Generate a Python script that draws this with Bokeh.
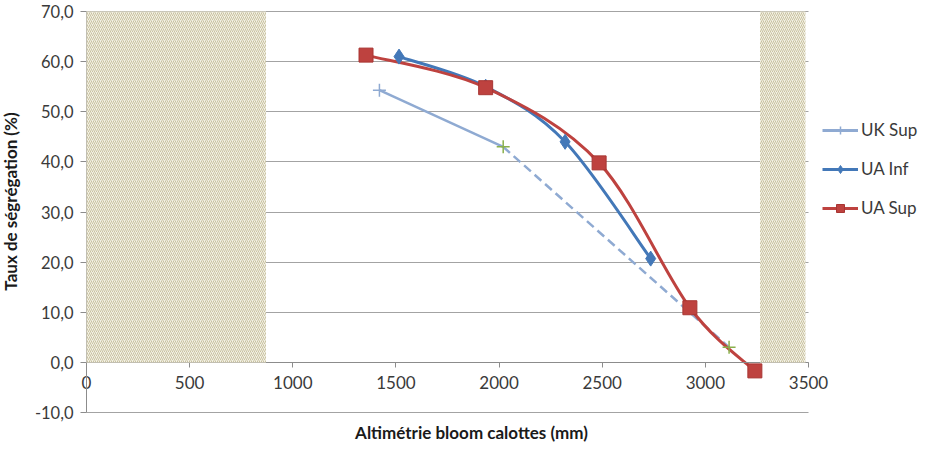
from math import pi
from bokeh.plotting import figure
from bokeh.models import (ColumnDataSource, FixedTicker, CustomJSTickFormatter,
                          Legend, LegendItem, Label)
from bokeh.embed import file_html
from bokeh.resources import INLINE

# ---------------- data ----------------
x_ticks = [0, 500, 1000, 1500, 2000, 2500, 3000, 3500]
y_ticks = [-10, 0, 10, 20, 30, 40, 50, 60, 70]

uk_sup_x = [1420, 2020, 3115]
uk_sup_y = [54.3, 43.0, 3.0]

ua_inf_x = [1515, 1935, 2320, 2735]
ua_inf_y = [61.0, 55.0, 44.0, 20.7]

ua_sup_x = [1355, 1935, 2485, 2925, 3240]
ua_sup_y = [61.3, 54.8, 39.8, 10.9, -1.7]

zone_left = [0, 3265]
zone_right = [870, 3485]
zone_bottom = [0, 0]
zone_top = [70, 70]

series_names = ["UK Sup", "UA Inf", "UA Sup"]
x_title = "Altimétrie bloom calottes (mm)"
y_title = "Taux de ségrégation (%)"

# ---------------- layout / styles ----------------
W, H = 918, 442
X0_PX, X1_PX = 86, 808      # pixel columns of x = 0 and x = 3500
Y70_PX, YM10_PX = 11, 412   # pixel rows of y = 70 and y = -10
SX = (X1_PX - X0_PX) / (x_ticks[-1] - x_ticks[0])
SY = (YM10_PX - Y70_PX) / (y_ticks[-1] - y_ticks[0])


def px_x(px):
    return x_ticks[0] + (px - X0_PX) / SX


def px_y(py):
    return y_ticks[-1] - (py - Y70_PX) / SY


UK_COLOR = "#8FAAD2"
UK_MARK_COLORS = ["#8FAAD2", "#8AB04C", "#8AB04C"]
INF_COLOR = "#4378B8"
SUP_COLOR = "#BE423F"
SUP_EDGE = "#A83532"
GRID = "#A3A3A3"
AXIS = "#8C8C8C"
TXT = "#3A3A3A"
FONT = "Lato"
NAN = float("nan")


def smooth_segments(xs, ys):
    """Bezier segments through the points (Catmull-Rom style control points)."""
    n = len(xs)
    d = dict(x0=[], y0=[], x1=[], y1=[], cx0=[], cy0=[], cx1=[], cy1=[])
    for i in range(n - 1):
        a = max(i - 1, 0)
        b = min(i + 2, n - 1)
        d["x0"].append(xs[i]); d["y0"].append(ys[i])
        d["x1"].append(xs[i + 1]); d["y1"].append(ys[i + 1])
        d["cx0"].append(xs[i] + (xs[i + 1] - xs[a]) / 6.0)
        d["cy0"].append(ys[i] + (ys[i + 1] - ys[a]) / 6.0)
        d["cx1"].append(xs[i + 1] - (xs[b] - xs[i]) / 6.0)
        d["cy1"].append(ys[i + 1] - (ys[b] - ys[i]) / 6.0)
    return d


p = figure(width=W, height=H,
           x_range=(px_x(0), px_x(W)), y_range=(px_y(H), px_y(0)),
           output_backend="svg", toolbar_location=None,
           min_border_left=0, min_border_right=0,
           min_border_top=0, min_border_bottom=0)
p.outline_line_color = None
p.background_fill_color = "white"
p.border_fill_color = "white"

# axes (crossing at 0 / 0)
xa = p.xaxis[0]
xa.fixed_location = 0
xa.bounds = (x_ticks[0], x_ticks[-1])
xa.ticker = FixedTicker(ticks=x_ticks, minor_ticks=[])
xa.major_tick_in = 0
xa.major_tick_out = 5
xa.minor_tick_out = 0
xa.minor_tick_in = 0
xa.axis_line_color = AXIS
xa.major_tick_line_color = AXIS
xa.major_label_text_font = FONT
xa.major_label_text_font_size = "17px"
xa.major_label_text_color = TXT
xa.major_label_standoff = 9

ya = p.yaxis[0]
ya.fixed_location = 0
ya.bounds = (y_ticks[0], y_ticks[-1])
ya.ticker = FixedTicker(ticks=y_ticks, minor_ticks=[])
ya.formatter = CustomJSTickFormatter(code="return tick.toFixed(1).replace('.', ',');")
ya.major_tick_in = 0
ya.major_tick_out = 6
ya.minor_tick_out = 0
ya.minor_tick_in = 0
ya.axis_line_color = AXIS
ya.major_tick_line_color = AXIS
ya.major_label_text_font = FONT
ya.major_label_text_font_size = "16.5px"
ya.major_label_text_color = TXT
ya.major_label_standoff = 7

p.xgrid.visible = False
yg = p.ygrid[0]
yg.ticker = FixedTicker(ticks=y_ticks, minor_ticks=[])
yg.grid_line_color = GRID
yg.grid_line_width = 1
if "cross_bounds" in yg.properties():
    yg.cross_bounds = (x_ticks[0], x_ticks[-1])
else:
    yg.visible = False
    p.segment(x0=[x_ticks[0]] * len(y_ticks), x1=[x_ticks[-1]] * len(y_ticks),
              y0=y_ticks, y1=y_ticks, line_color=GRID, line_width=1, level="underlay")

# hatched zones (drawn over the axis line, as in the reference)
p.quad(left=zone_left, right=zone_right, bottom=zone_bottom, top=zone_top,
       fill_color="#F2F0E4", line_color=None,
       hatch_pattern="/", hatch_color="#C9C2A0", hatch_scale=4, hatch_weight=1,
       level="overlay")

# UK Sup: straight lines, solid then dashed
p.line(x=uk_sup_x[:2], y=uk_sup_y[:2], line_color=UK_COLOR, line_width=2.5)
p.line(x=uk_sup_x[1:], y=uk_sup_y[1:], line_color=UK_COLOR, line_width=2.5,
       line_dash="9 5")

inf_seg = smooth_segments(ua_inf_x, ua_inf_y)
p.bezier(x0="x0", y0="y0", x1="x1", y1="y1", cx0="cx0", cy0="cy0", cx1="cx1", cy1="cy1",
         source=ColumnDataSource(inf_seg), line_color=INF_COLOR, line_width=3)

sup_seg = smooth_segments(ua_sup_x, ua_sup_y)
p.bezier(x0="x0", y0="y0", x1="x1", y1="y1", cx0="cx0", cy0="cy0", cx1="cx1", cy1="cy1",
         source=ColumnDataSource(sup_seg), line_color=SUP_COLOR, line_width=3)

# markers
p.scatter(x=uk_sup_x, y=uk_sup_y, marker="cross", size=13, line_width=1.5,
          line_color=UK_MARK_COLORS, level="overlay")
p.scatter(x=ua_inf_x, y=ua_inf_y, marker="diamond", size=15,
          fill_color=INF_COLOR, line_color=INF_COLOR, level="overlay")
p.scatter(x=ua_sup_x, y=ua_sup_y, marker="square", size=14,
          fill_color=SUP_COLOR, line_color=SUP_EDGE, level="overlay")

# legend swatches (not-a-number points: nothing drawn in the plot itself)
l_uk = p.line(x=[NAN, NAN], y=[NAN, NAN], line_color=UK_COLOR, line_width=3)
m_uk = p.scatter(x=[NAN], y=[NAN], marker="cross", size=13, line_width=1.5, line_color=UK_COLOR)
l_inf = p.line(x=[NAN, NAN], y=[NAN, NAN], line_color=INF_COLOR, line_width=3)
m_inf = p.scatter(x=[NAN], y=[NAN], marker="diamond", size=14, fill_color=INF_COLOR, line_color=INF_COLOR)
l_sup = p.line(x=[NAN, NAN], y=[NAN, NAN], line_color=SUP_COLOR, line_width=3)
m_sup = p.scatter(x=[NAN], y=[NAN], marker="square", size=13, fill_color=SUP_COLOR, line_color=SUP_EDGE)

legend = Legend(items=[
    LegendItem(label=series_names[0], renderers=[l_uk, m_uk]),
    LegendItem(label=series_names[1], renderers=[l_inf, m_inf]),
    LegendItem(label=series_names[2], renderers=[l_sup, m_sup]),
], location=(822, 224), orientation="vertical",
    glyph_width=36, glyph_height=20, label_height=20, spacing=18,
    padding=0, margin=0, label_standoff=3,
    border_line_color=None, background_fill_alpha=0,
    label_text_font=FONT, label_text_font_size="17px", label_text_color=TXT)
p.add_layout(legend)

# axis titles
p.add_layout(Label(x=px_x(471), y=px_y(432), text=x_title,
                   text_font=FONT, text_font_size="17px", text_font_style="bold",
                   text_align="center", text_baseline="middle", text_color="#1A1A1A"))
p.add_layout(Label(x=px_x(10), y=px_y(201), text=y_title, angle=pi / 2,
                   text_font=FONT, text_font_size="17px", text_font_style="bold",
                   text_align="center", text_baseline="middle", text_color="#1A1A1A"))

open("out.html", "w").write(file_html(p, INLINE))
